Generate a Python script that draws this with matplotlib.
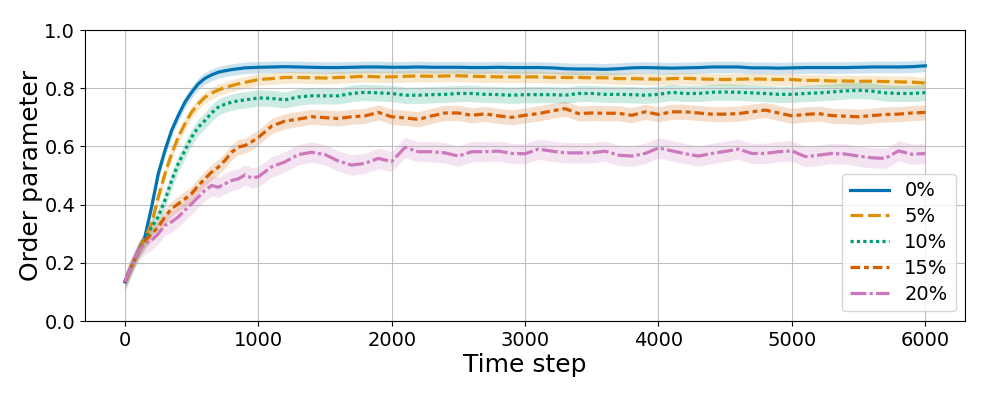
import numpy as np
import matplotlib
matplotlib.use('Agg')
import matplotlib.pyplot as plt

# time axis: every 50 steps up to 900, then every 100 steps
steps = list(range(0, 1000, 50)) + list(range(1000, 6001, 100))

labels = ['0%', '5%', '10%', '15%', '20%']

op_0 = [0.135, 0.19, 0.24, 0.29, 0.392, 0.506, 0.586, 0.655, 0.706, 0.752,
        0.786, 0.815, 0.834, 0.846, 0.855, 0.860, 0.864, 0.867, 0.870, 0.871,
        0.872, 0.873, 0.874, 0.873, 0.872, 0.871, 0.871, 0.872, 0.873, 0.873,
        0.872, 0.872, 0.873, 0.872, 0.872, 0.872, 0.871, 0.871, 0.872, 0.871,
        0.871, 0.871, 0.870, 0.867, 0.866, 0.866, 0.865, 0.867, 0.870, 0.871,
        0.870, 0.869, 0.870, 0.871, 0.873, 0.873, 0.873, 0.870, 0.870, 0.869,
        0.870, 0.871, 0.871, 0.871, 0.871, 0.872, 0.873, 0.873, 0.873, 0.874,
        0.877]
op_5 = [0.135, 0.19, 0.24, 0.285, 0.335, 0.426, 0.506, 0.575, 0.632, 0.678,
        0.718, 0.746, 0.769, 0.783, 0.794, 0.802, 0.809, 0.815, 0.820, 0.825,
        0.830, 0.833, 0.837, 0.837, 0.836, 0.835, 0.837, 0.839, 0.841, 0.839,
        0.839, 0.841, 0.842, 0.841, 0.842, 0.843, 0.841, 0.840, 0.839, 0.839,
        0.839, 0.839, 0.837, 0.837, 0.837, 0.836, 0.836, 0.833, 0.833, 0.832,
        0.831, 0.833, 0.834, 0.832, 0.831, 0.830, 0.831, 0.832, 0.831, 0.830,
        0.830, 0.827, 0.827, 0.825, 0.825, 0.824, 0.824, 0.823, 0.822, 0.821,
        0.818]
op_10 = [0.135, 0.19, 0.24, 0.275, 0.323, 0.358, 0.415, 0.483, 0.541, 0.586,
         0.632, 0.666, 0.689, 0.715, 0.735, 0.745, 0.752, 0.757, 0.760, 0.763,
         0.767, 0.765, 0.760, 0.770, 0.774, 0.774, 0.774, 0.782, 0.786, 0.784,
         0.782, 0.776, 0.776, 0.778, 0.779, 0.782, 0.782, 0.779, 0.778, 0.776,
         0.778, 0.778, 0.778, 0.776, 0.782, 0.782, 0.779, 0.779, 0.778, 0.776,
         0.779, 0.786, 0.782, 0.782, 0.786, 0.787, 0.786, 0.784, 0.782, 0.779,
         0.779, 0.782, 0.784, 0.787, 0.791, 0.793, 0.790, 0.784, 0.782, 0.782,
         0.785]
op_15 = [0.135, 0.19, 0.24, 0.275, 0.300, 0.323, 0.358, 0.386, 0.403, 0.420,
         0.438, 0.466, 0.489, 0.512, 0.529, 0.552, 0.580, 0.598, 0.603, 0.616,
         0.631, 0.670, 0.687, 0.694, 0.702, 0.699, 0.696, 0.702, 0.705, 0.717,
         0.702, 0.698, 0.693, 0.705, 0.715, 0.715, 0.707, 0.712, 0.705, 0.700,
         0.707, 0.713, 0.722, 0.730, 0.713, 0.715, 0.714, 0.714, 0.707, 0.719,
         0.710, 0.719, 0.719, 0.715, 0.711, 0.711, 0.713, 0.719, 0.725, 0.715,
         0.705, 0.710, 0.713, 0.706, 0.704, 0.702, 0.706, 0.710, 0.711, 0.715,
         0.717]
op_20 = [0.135, 0.19, 0.24, 0.265, 0.278, 0.300, 0.329, 0.341, 0.358, 0.381,
         0.403, 0.426, 0.449, 0.466, 0.460, 0.472, 0.483, 0.489, 0.502, 0.492,
         0.496, 0.530, 0.547, 0.572, 0.580, 0.572, 0.550, 0.536, 0.542, 0.559,
         0.548, 0.597, 0.582, 0.582, 0.578, 0.567, 0.582, 0.582, 0.584, 0.576,
         0.575, 0.591, 0.584, 0.578, 0.578, 0.578, 0.584, 0.570, 0.567, 0.576,
         0.595, 0.585, 0.575, 0.567, 0.576, 0.583, 0.591, 0.576, 0.576, 0.582,
         0.585, 0.565, 0.570, 0.576, 0.574, 0.567, 0.561, 0.559, 0.585, 0.573,
         0.576]
series = [op_0, op_5, op_10, op_15, op_20]

# half-width of the shaded band for each run
spread = [0.02, 0.02, 0.028, 0.026, 0.035]

colors = ['#0173b2', '#de8f05', '#029e73', '#d55e00', '#cc78bc']
dashes = [(None, None), (4, 1.5), (1, 1), (3, 1.25, 1.5, 1.25), (5, 1, 1, 1)]

fig = plt.figure(figsize=(9.87, 3.95), dpi=100)
ax = fig.add_axes([0.086, 0.187, 0.892, 0.737])

x = np.array(steps)
for vals, sd, c, d, lab in zip(series, spread, colors, dashes, labels):
    y = np.array(vals)
    ax.fill_between(x, y - sd, y + sd, color=c, alpha=0.2, linewidth=0)
    line, = ax.plot(x, y, color=c, linewidth=2.3, label=lab)
    if d[0] is not None:
        line.set_dashes(d)

ax.set_ylim(0, 1.0)
ax.set_xlim(-300, 6300)
ax.set_xticks(range(0, 6001, 1000))
ax.set_yticks(np.arange(0, 1.01, 0.2))
ax.grid(True, color='#b0b0b0', linewidth=0.8, alpha=0.8)
ax.tick_params(labelsize=14)
ax.set_xlabel('Time step', fontsize=18, labelpad=2)
ax.set_ylabel('Order parameter', fontsize=18, labelpad=1)
ax.legend(loc='lower right', fontsize=14, labelspacing=0.35)

plt.savefig('out.png', dpi=100)
